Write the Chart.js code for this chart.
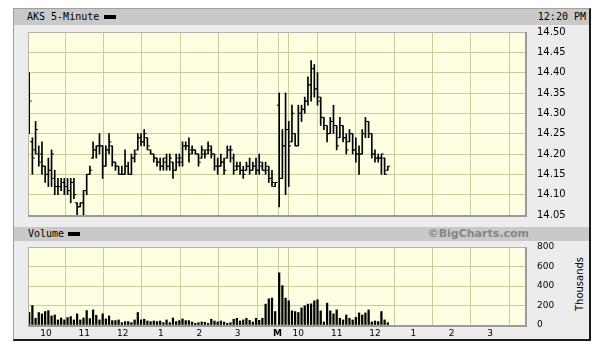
<!DOCTYPE html>
<html>
<head>
<meta charset="utf-8">
<script src="https://cdn.jsdelivr.net/npm/chart.js@4.4.1/dist/chart.umd.min.js"></script>
<style>
html,body{margin:0;padding:0;background:#fff;width:613px;height:349px;overflow:hidden;position:relative}
#frame{position:absolute;left:13px;top:8px;width:575px;height:330px;background:#ececec;border-left:1px solid #a0a0a0;border-top:1px solid #a0a0a0;border-right:2px solid #1a1a1a;border-bottom:2px solid #1a1a1a}
.band{position:absolute;left:14px;width:575px;background:#c9c9c9}
.t{position:absolute;font-family:"DejaVu Sans Mono",monospace;font-size:10px;color:#000;white-space:nowrap}
.sw{position:absolute;background:#000;width:12px;height:4px}
canvas{position:absolute;left:0;top:0}
</style>
</head>
<body>
<div id="frame"></div>
<div class="band" style="top:9px;height:16px"></div>
<div class="band" style="top:227px;height:14px"></div>
<div class="t" style="left:27px;top:9px;line-height:16px">AKS 5-Minute</div>
<div class="sw" style="left:104px;top:15px"></div>
<div class="t" style="right:27px;top:9px;line-height:16px">12:20 PM</div>
<div class="t" style="left:28px;top:227px;line-height:14px">Volume</div>
<div class="sw" style="left:68px;top:232px"></div>
<div class="t" style="right:84px;top:227px;line-height:14px;font-family:'DejaVu Sans';font-weight:bold;font-size:11px;color:#858585">©BigCharts.com</div>
<div class="t" style="left:580px;top:284px;font-family:'DejaVu Sans';font-size:10px;transform:translate(-50%,-50%) rotate(-90deg);line-height:12px">Thousands</div>
<canvas id="vol" width="613" height="349"></canvas>
<canvas id="price" width="613" height="349"></canvas>
<script>
// ---- data ----
const tickPositions = [6, 18, 30, 42, 54, 66, 78.5, 79, 85, 97, 109, 121, 133, 145];
const tickLabels = ['10', '11', '12', '1', '2', '3', 'M', '', '10', '11', '12', '1', '2', '3'];
const priceTicks = ['14.05', '14.10', '14.15', '14.20', '14.25', '14.30', '14.35', '14.40', '14.45', '14.50'];
const volumeTicks = ['0', '200', '400', '600', '800'];

const day1Open = [14.32,14.23,14.21,14.20,14.20,14.17,14.15,14.16,14.14,14.12, 14.12,14.13,14.12,14.11,14.13,14.08,14.07,14.08,14.11,14.15, 14.19,14.21,14.22,14.22,14.17,14.21,14.22,14.18,14.17,14.15, 14.15,14.17,14.15,14.19,14.21,14.24,14.23,14.24,14.21,14.20, 14.19,14.18,14.17,14.18,14.17,14.18,14.16,14.18,14.18,14.22, 14.22,14.21,14.21,14.20,14.19,14.20,14.21,14.21,14.20,14.17, 14.17,14.18,14.19,14.21,14.19,14.17,14.17,14.16,14.16,14.17, 14.16,14.17,14.16,14.17,14.16,14.16,14.14,14.12];
const day1High = [14.40,14.24,14.28,14.22,14.23,14.17,14.19,14.21,14.16,14.14, 14.14,14.14,14.14,14.14,14.14,14.08,14.08,14.11,14.15,14.17, 14.23,14.22,14.25,14.22,14.22,14.25,14.22,14.18,14.17,14.17, 14.21,14.18,14.20,14.21,14.25,14.25,14.26,14.24,14.21,14.20, 14.19,14.19,14.19,14.20,14.20,14.18,14.20,14.20,14.23,14.23, 14.24,14.22,14.21,14.20,14.22,14.21,14.23,14.22,14.20,14.19, 14.20,14.19,14.22,14.22,14.20,14.18,14.18,14.17,14.18,14.19, 14.18,14.19,14.20,14.18,14.18,14.17,14.16,14.13];
const day1Low = [14.25,14.15,14.20,14.17,14.15,14.13,14.12,14.12,14.10,14.10, 14.11,14.10,14.10,14.08,14.09,14.05,14.07,14.05,14.10,14.15, 14.19,14.19,14.20,14.14,14.17,14.20,14.17,14.16,14.15,14.15, 14.15,14.15,14.15,14.18,14.21,14.22,14.22,14.21,14.20,14.18, 14.17,14.16,14.16,14.16,14.16,14.14,14.16,14.17,14.17,14.21, 14.18,14.20,14.20,14.17,14.19,14.19,14.20,14.19,14.16,14.15, 14.17,14.15,14.19,14.18,14.15,14.16,14.15,14.14,14.16,14.15, 14.16,14.15,14.15,14.16,14.15,14.13,14.12,14.12];
const day1Close = [14.33,14.19,14.26,14.18,14.17,14.15,14.16,14.20,14.12,14.12, 14.13,14.12,14.11,14.13,14.10,14.07,14.08,14.11,14.15,14.16, 14.21,14.22,14.22,14.17,14.21,14.23,14.18,14.17,14.15,14.15, 14.17,14.15,14.19,14.20,14.24,14.23,14.25,14.22,14.20,14.19, 14.18,14.17,14.19,14.17,14.19,14.16,14.19,14.19,14.22,14.22, 14.20,14.21,14.20,14.18,14.21,14.20,14.22,14.20,14.17,14.17, 14.18,14.16,14.21,14.21,14.16,14.17,14.16,14.15,14.17,14.16, 14.17,14.16,14.18,14.16,14.17,14.14,14.13,14.13];
const day1Volume = [128,200,69,128,114,138,148,93,103,52, 72,52,76,86,52,114,52,72,148,66, 155,100,52,114,62,93,45,45,52,24, 35,35,24,52,128,52,59,41,35,41, 35,41,24,52,24,72,35,45,62,45, 45,31,17,24,31,28,17,59,41,31, 41,31,17,24,59,69,41,52,69,48, 31,69,48,69,214,269,276,138];

const day2Open = [14.32,14.14,14.22,14.26,14.23,14.25,14.22,14.30,14.31,14.33, 14.37,14.41,14.36,14.33,14.29,14.27,14.25,14.28,14.27,14.24, 14.27,14.24,14.23,14.25,14.21,14.20,14.20,14.25,14.28,14.25, 14.20,14.19,14.19,14.19,14.16];
const day2High = [14.35,14.26,14.35,14.28,14.32,14.25,14.32,14.32,14.34,14.39, 14.43,14.42,14.40,14.34,14.29,14.27,14.29,14.32,14.27,14.29, 14.27,14.25,14.26,14.25,14.24,14.22,14.26,14.29,14.28,14.25, 14.21,14.20,14.20,14.19,14.17];
const day2Low = [14.07,14.14,14.10,14.12,14.23,14.22,14.22,14.28,14.30,14.32, 14.33,14.34,14.32,14.27,14.26,14.23,14.25,14.25,14.21,14.24, 14.23,14.20,14.23,14.20,14.18,14.15,14.20,14.24,14.24,14.19, 14.18,14.18,14.15,14.15,14.16];
const day2Close = [14.14,14.22,14.26,14.22,14.30,14.22,14.30,14.31,14.33,14.37, 14.41,14.36,14.34,14.29,14.27,14.25,14.28,14.27,14.22,14.27, 14.24,14.21,14.25,14.21,14.20,14.20,14.25,14.28,14.25,14.20, 14.19,14.19,14.20,14.15,14.17];
const day2Volume = [535,404,276,248,145,138,128,176,197,214, 217,248,259,145,31,224,145,114,155,69, 52,103,69,52,79,124,103,124,155,31, 41,35,138,52,24];

// ---- build ----
const X_MIN = 0.376, X_MAX = 155.95;
const DAY1_OFF = 0.75, DAY2_OFF = 79;
const TICK_DX = 0.36;
function slot(day, i) { return (day === 1 ? DAY1_OFF : DAY2_OFF) + i; }

const hl = [], opens = [], closes = [], vols = [];
day1High.forEach((h, i) => {
  hl.push({x: slot(1, i), y: [day1Low[i], h]});
  opens.push({x: slot(1, i) - TICK_DX, y: day1Open[i]});
  closes.push({x: slot(1, i) + TICK_DX, y: day1Close[i]});
  vols.push({x: slot(1, i), y: day1Volume[i]});
});
day2High.forEach((h, i) => {
  hl.push({x: slot(2, i), y: [day2Low[i], h]});
  opens.push({x: slot(2, i) - TICK_DX, y: day2Open[i]});
  closes.push({x: slot(2, i) + TICK_DX, y: day2Close[i]});
});
day2Volume.forEach((v, i) => vols.push({x: slot(2, i), y: v}));

const GRID = '#cccc99';
const plotBg = {
  id: 'plotBg',
  beforeDraw(chart) {
    const {ctx, chartArea: a} = chart;
    ctx.save();
    ctx.fillStyle = '#fefee2';
    ctx.fillRect(a.left, a.top, a.right - a.left, a.bottom - a.top);
    ctx.restore();
  },
  afterDraw(chart) {
    const {ctx, chartArea: a} = chart;
    ctx.save();
    ctx.strokeStyle = '#b4b4a0';
    ctx.lineWidth = 1;
    ctx.beginPath();
    ctx.moveTo(a.left + 0.5, a.bottom);
    ctx.lineTo(a.left + 0.5, a.top + 0.5);
    ctx.lineTo(a.right, a.top + 0.5);
    ctx.stroke();
    ctx.strokeStyle = '#9a9a9a';
    ctx.lineWidth = 2;
    ctx.beginPath();
    ctx.moveTo(a.left, a.bottom + 1);
    ctx.lineTo(a.right + 1, a.bottom + 1);
    ctx.lineTo(a.right + 1, a.top);
    ctx.stroke();
    ctx.restore();
  }
};

function xScale(showLabels) {
  return {
    type: 'linear', min: X_MIN, max: X_MAX, offset: false,
    afterBuildTicks: s => { s.ticks = tickPositions.map(v => ({value: v})); },
    afterFit: s => { s.height = showLabels ? 20 : 0; },
    ticks: {
      display: showLabels, autoSkip: false, maxRotation: 0, minRotation: 0, padding: 3, color: '#000',
      font: c => ({family: 'DejaVu Sans', size: 9, weight: (c.index === 6 ? 'bold' : 'normal')}),
      callback: (v, i) => tickLabels[i]
    },
    grid: {color: GRID, lineWidth: 1, drawTicks: false},
    border: {display: false}
  };
}

const common = {
  responsive: false, animation: false, devicePixelRatio: 1, events: [],
  plugins: {legend: {display: false}, tooltip: {enabled: false}}
};

new Chart(document.getElementById('price'), {
  type: 'bar',
  data: {
    datasets: [
      {type: 'bar', data: hl, backgroundColor: '#000', borderWidth: 0, barThickness: 1, grouped: false},
      {type: 'scatter', data: opens, pointStyle: 'line', radius: 1.2, borderWidth: 1, borderColor: '#000', pointHoverRadius: 0},
      {type: 'scatter', data: closes, pointStyle: 'line', radius: 1.2, borderWidth: 1, borderColor: '#000', pointHoverRadius: 0}
    ]
  },
  options: Object.assign({}, common, {
    layout: {padding: {left: 28, top: 32, right: 28, bottom: 134}},
    scales: {
      x: xScale(false),
      y: {
        position: 'right', min: 14.05, max: 14.50,
        afterBuildTicks: s => { s.ticks = priceTicks.map(t => ({value: Number(t)})); },
        afterFit: s => { s.width = 60; },
        ticks: {padding: 12, color: '#000', font: {family: 'DejaVu Sans', size: 10}, callback: (v, i) => priceTicks[i]},
        grid: {color: GRID, lineWidth: 1, drawTicks: false},
        border: {display: false}
      }
    }
  }),
  plugins: [plotBg]
});

new Chart(document.getElementById('vol'), {
  type: 'bar',
  data: {datasets: [{data: vols, backgroundColor: '#000', borderWidth: 0, barThickness: 1.6}]},
  options: Object.assign({}, common, {
    layout: {padding: {left: 28, top: 247, right: 28, bottom: 4}},
    scales: {
      x: xScale(true),
      y: {
        position: 'right', min: 0, max: 800,
        afterBuildTicks: s => { s.ticks = volumeTicks.map(t => ({value: Number(t)})); },
        afterFit: s => { s.width = 60; },
        ticks: {padding: 12, color: '#000', font: {family: 'DejaVu Sans', size: 9}, callback: (v, i) => volumeTicks[i]},
        grid: {color: GRID, lineWidth: 1, drawTicks: false},
        border: {display: false}
      }
    }
  }),
  plugins: [plotBg]
});
</script>
</body>
</html>
